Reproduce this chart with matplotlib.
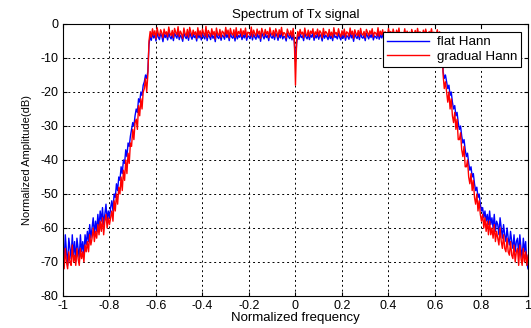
import numpy as np
import matplotlib
matplotlib.use("Agg")
import matplotlib.pyplot as plt

plt.rcParams['font.family'] = ['Liberation Sans', 'DejaVu Sans']
plt.rcParams['axes.unicode_minus'] = False

# normalized frequency grid, step 0.005
freq = np.linspace(-1, 1, 401)

# --- flat Hann window spectrum (dB) ---
flat_left = [
    -64, -70, -62, -67, -71, -63, -66, -69, -62, -68,
    -64, -70, -63, -66, -69, -62, -67, -64, -68, -62,
    -65, -61, -64, -59, -63, -60, -57, -62, -58, -61,
    -56, -60, -55, -58, -54, -59, -56, -53, -58, -55,
    -57, -54, -52, -55, -50, -51, -47, -49, -45, -46,
    -42, -44, -40, -41, -37, -39, -35, -36, -33, -31,
    -29, -30, -27, -25, -26, -22, -23, -20, -21, -18,
    -17, -15, -16, -14,
]
flat_pass = [
    -6.0, -3.5, -4.8, -2.6, -4.1, -3.2, -5.0, -2.4, -3.9, -4.6, -2.8, -3.6, -5.2, -2.9, -4.0, -3.1, -4.7, -2.5, -3.8, -4.4,
    -3.0, -4.9, -2.7, -3.5, -4.2, -2.3, -4.6, -3.3, -3.9, -5.1, -2.6, -3.7, -4.3, -3.0, -4.8, -2.4, -3.6, -4.5, -2.9, -4.0,
    -3.4, -5.0, -2.5, -4.1, -3.2, -4.7, -2.8, -3.8, -4.4, -2.2, -4.9, -3.1, -3.7, -4.6, -2.7, -4.2, -3.5, -5.2, -2.6, -3.9,
    -4.3, -2.9, -4.8, -3.3, -3.6, -4.5, -2.4, -4.0, -3.0, -4.9, -2.8, -3.8, -4.2, -3.1, -5.0, -2.5, -4.4, -3.4, -3.9, -2.7,
    -4.6, -3.2, -4.1, -2.6, -4.8, -3.5, -3.7, -4.3, -2.3, -4.7, -3.0, -3.9, -4.5, -2.8, -4.1, -3.3, -5.1, -2.6, -3.6, -4.4,
    -2.9, -4.0, -3.4, -4.9, -2.5, -3.8, -4.2, -3.1, -4.6, -2.7, -3.5, -4.8, -3.0, -4.1, -2.4, -4.4, -3.6, -3.9, -5.0, -2.8,
    -3.7, -4.3, -3.2, -4.7, -2.6, -5.5, -11.0, -5.8, -3.3, -4.5, -2.9, -4.0, -3.5, -4.9, -2.5, -3.8, -4.4, -3.0, -4.6, -3.2,
    -3.9, -2.7, -4.8, -3.4, -4.1, -2.8, -4.5, -3.1, -3.7, -5.0, -2.6, -4.2, -3.3, -3.8, -4.6, -2.9, -4.3, -3.5, -4.9, -2.4,
    -4.0, -3.6, -4.4, -2.7, -3.9, -4.7, -3.1, -4.2, -2.8, -4.8, -3.4, -3.7, -4.5, -2.5, -4.1, -3.2, -5.1, -2.9, -3.8, -4.3,
    -3.0, -4.6, -2.6, -3.9, -4.2, -3.3, -4.9, -2.8, -3.6, -4.4, -3.1, -4.0, -2.7, -4.7, -3.5, -3.8, -4.3, -2.4, -4.5, -3.2,
    -4.1, -2.9, -4.8, -3.4, -3.7, -4.6, -2.6, -4.0, -3.3, -5.0, -2.8, -3.9, -4.4, -3.0, -4.2, -2.5, -4.7, -3.6, -3.8, -4.3,
    -2.7, -4.5, -3.2, -4.0, -3.5, -4.9, -2.9, -3.8, -4.2, -3.1, -4.6, -2.6, -4.1, -3.4, -3.7, -4.8, -3.0, -4.3, -2.8, -3.9,
    -4.4, -3.3, -4.0, -2.7, -4.6, -3.5, -3.8, -4.2, -2.9, -4.5, -3.4, -4.1, -6.0,
]
flat_right = [
    -14, -16, -15, -17, -19, -18, -21, -20, -23, -25, -24, -27, -26, -29, -31, -30, -33, -35, -34, -37,
    -39, -38, -41, -43, -42, -45, -44, -47, -49, -48, -51, -50, -53, -55, -54, -57, -55, -58, -56, -59,
    -55, -59, -57, -60, -56, -61, -58, -59, -62, -57, -60, -63, -59, -62, -64, -60, -63, -65, -61, -64,
    -66, -62, -67, -64, -63, -68, -62, -66, -69, -63, -67, -64, -70, -72,
]

# --- gradual Hann window spectrum (dB) ---
grad_left = [
    -68, -72, -66, -70, -72, -67, -70, -71, -65, -70,
    -68, -71, -66, -69, -71, -66, -69, -67, -70, -65,
    -67, -64, -67, -62, -65, -63, -60, -64, -61, -63,
    -59, -62, -58, -61, -57, -62, -58, -56, -60, -57,
    -59, -57, -55, -58, -52, -55, -50, -53, -48, -50,
    -45, -49, -43, -46, -40, -44, -38, -41, -35, -36,
    -31, -34, -29, -28, -31, -24, -27, -22, -25, -20,
    -19, -16, -20, -15,
]
grad_pass = [
    -5.0, -2.2, -3.9, -1.4, -3.3, -2.0, -4.4, -1.1, -2.9, -3.6, -1.7, -2.6, -4.1, -1.5, -3.0, -2.3, -3.8, -0.9, -2.7, -3.4,
    -1.9, -4.0, -1.3, -2.5, -3.2, -0.8, -3.7, -2.1, -2.9, -4.3, -1.2, -2.8, -3.5, -1.6, -3.9, -1.0, -2.4, -3.6, -1.8, -3.1,
    -2.3, -4.2, -1.1, -3.3, -2.0, -3.8, -1.5, -2.7, -3.5, -0.7, -4.0, -1.9, -2.6, -3.7, -1.4, -3.2, -2.2, -4.4, -1.2, -2.9,
    -3.4, -1.6, -3.9, -2.1, -2.5, -3.6, -1.0, -3.0, -1.8, -4.1, -1.3, -2.8, -3.3, -1.7, -4.0, -1.1, -3.5, -2.2, -2.9, -1.4,
    -3.7, -2.0, -3.1, -1.2, -3.9, -2.4, -2.6, -3.4, -0.9, -3.8, -1.8, -2.8, -3.6, -1.5, -3.0, -2.1, -4.2, -1.3, -2.5, -3.5,
    -1.6, -3.0, -2.2, -4.0, -1.1, -2.7, -3.3, -1.9, -3.7, -1.4, -2.4, -3.9, -1.7, -3.1, -1.0, -3.5, -2.5, -2.8, -4.1, -1.5,
    -2.6, -3.4, -2.0, -3.8, -1.3, -4.6, -18.0, -5.0, -2.2, -3.6, -1.6, -3.0, -2.4, -4.0, -1.2, -2.9, -3.5, -1.8, -3.7, -2.1,
    -2.8, -1.4, -3.9, -2.3, -3.1, -1.5, -3.6, -2.0, -2.6, -4.1, -1.3, -3.2, -2.2, -2.7, -3.7, -1.6, -3.4, -2.4, -4.0, -1.1,
    -3.0, -2.5, -3.5, -1.4, -2.9, -3.8, -2.0, -3.3, -1.5, -3.9, -2.3, -2.6, -3.6, -1.2, -3.1, -2.1, -4.2, -1.7, -2.8, -3.4,
    -1.9, -3.7, -1.3, -2.9, -3.3, -2.2, -4.0, -1.6, -2.5, -3.5, -2.0, -3.0, -1.4, -3.8, -2.4, -2.7, -3.4, -1.1, -3.6, -2.1,
    -3.2, -1.7, -3.9, -2.3, -2.6, -3.7, -1.3, -3.0, -2.2, -4.1, -1.5, -2.8, -3.5, -1.8, -3.3, -1.2, -3.8, -2.5, -2.7, -3.4,
    -1.4, -3.6, -2.1, -3.0, -2.4, -4.0, -1.6, -2.8, -3.3, -1.9, -3.7, -1.3, -3.1, -2.3, -2.6, -3.9, -1.8, -3.4, -1.5, -2.9,
    -3.5, -2.2, -3.0, -1.4, -3.7, -2.4, -2.8, -3.2, -1.7, -3.6, -2.3, -3.0, -5.0,
]
grad_right = [
    -15, -19, -17, -20, -23, -20, -25, -22, -27, -29, -26, -31, -28, -34, -34, -32, -37, -39, -36, -42,
    -42, -40, -45, -47, -44, -49, -46, -51, -53, -50, -55, -52, -56, -58, -56, -60, -57, -61, -58, -62,
    -58, -62, -60, -63, -59, -64, -61, -63, -65, -60, -64, -66, -62, -66, -67, -63, -67, -68, -64, -68,
    -69, -65, -70, -67, -66, -71, -65, -69, -71, -66, -70, -67, -71, -68,
]

flat_hann = np.array(flat_left + flat_pass + flat_right)
gradual_hann = np.array(grad_left + grad_pass + grad_right)
assert len(flat_hann) == len(freq) and len(gradual_hann) == len(freq)

x_ticks = np.arange(-1, 1.01, 0.2)
y_ticks = np.arange(-80, 1, 10)
x_tick_labels = ['-1', '-0.8', '-0.6', '-0.4', '-0.2', '0', '0.2', '0.4', '0.6', '0.8', '1']

fig = plt.figure(figsize=(5.31, 3.28), dpi=100)
ax = fig.add_axes([0.1186, 0.0976, 0.8757, 0.8293])

ax.plot(freq, flat_hann, color='#0000ff', lw=1.0, label='flat Hann')
ax.plot(freq, gradual_hann, color='#ff0000', lw=1.0, label='gradual Hann')

ax.set_xlim(-1, 1)
ax.set_ylim(-80, 0)
ax.set_xticks(x_ticks)
ax.set_yticks(y_ticks)
ax.set_xticklabels(x_tick_labels)
ax.tick_params(direction='in', labelsize=9, length=3, top=True, right=True, pad=3)
ax.grid(True, color='black', linestyle=(0, (2, 3)), linewidth=0.7)
for s in ax.spines.values():
    s.set_linewidth(0.8)

ax.set_title('Spectrum of Tx signal', fontsize=9.5, pad=4)
ax.set_xlabel('Normalized frequency', fontsize=9.5, labelpad=0)
ax.set_ylabel('Normalized Amplitude(dB)', fontsize=8, labelpad=6)

leg = ax.legend(loc='upper right', bbox_to_anchor=(0.985, 0.97), borderaxespad=0,
                fancybox=False, edgecolor='black', framealpha=1, fontsize=9.6,
                handlelength=3.1, borderpad=0.3, labelspacing=0.15, handletextpad=0.6)
leg.get_frame().set_linewidth(0.8)

fig.savefig('out.png', dpi=100)
